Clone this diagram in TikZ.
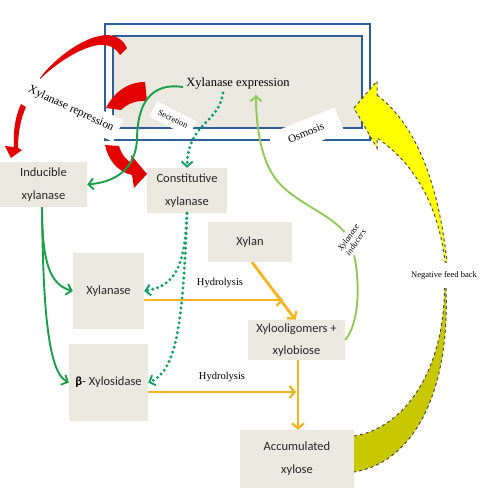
\documentclass[tikz,border=0pt]{standalone}
\usepackage{fontspec}
\setmainfont{Liberation Serif}
\newfontfamily\carl{Carlito}
\usetikzlibrary{arrows.meta}
\definecolor{boxc}{HTML}{EBE8E0}
\definecolor{redc}{HTML}{E20000}
\definecolor{dgreen}{HTML}{18A04A}
\definecolor{tgreen}{HTML}{12A068}
\definecolor{lgreen}{HTML}{8DCB55}
\definecolor{orng}{HTML}{F6B520}
\definecolor{yel}{HTML}{FFFF00}
\definecolor{oliv}{HTML}{C8C800}
\definecolor{bluec}{HTML}{2F5D9B}
\begin{document}
\begin{tikzpicture}[x=1pt,y=-1pt,
  ebox/.style={fill=boxc,inner sep=0pt,align=center,font=\carl\fontsize{12.5}{23}\selectfont,text=black!85},
  tagbox/.style={fill=white,inner sep=2pt},
  dg/.style={draw=dgreen,line width=1.9pt,-{Straight Barb[length=5pt,width=11pt,line width=1.9pt]}},
  dots/.style={draw=tgreen,line width=3.3pt,line cap=round,dash pattern=on 0pt off 5pt,-{Straight Barb[length=5pt,width=11pt,line width=1.9pt]}},
  lg/.style={draw=lgreen,line width=1.9pt,-{Straight Barb[length=5pt,width=11pt,line width=1.9pt]}},
  og/.style={draw=orng,line width=2.8pt,-{Straight Barb[length=5pt,width=12pt,line width=2.3pt]}},
  bigarrow/.style={draw=black!70,line width=1pt,dashed}]
\useasboundingbox (0,0) rectangle (504,504);

% cell walls
\draw[bluec,line width=1.4pt] (105,24) rectangle (370,140);
\draw[bluec,line width=1.4pt,fill=boxc] (113,36) rectangle (362,128);

% red repression arrows
\fill[redc] (40,78) .. controls (55,58) and (85,35) .. (108,35) .. controls (118,36) and (124,41) .. (127,48) -- (120,55) .. controls (115,47) and (108,44) .. (98,45) .. controls (80,48) and (58,62) .. (40,79) -- cycle;
\fill[redc] (21,104) -- (26,107) .. controls (20,120) and (18,135) .. (18,148) -- (22,150) -- (11,158) -- (5,146) -- (14,147) .. controls (13,132) and (15,117) .. (21,104) -- cycle;
\fill[redc] (145,82) .. controls (128,82) and (114,92) .. (106,108) -- (121,110) .. controls (127,104) and (136,100) .. (147,101) -- cycle;
\fill[redc] (105,145) -- (119,146) .. controls (122,155) and (126,160) .. (132,163) -- (131,155) -- (147,174) -- (134,188) -- (132,175) .. controls (118,172) and (108,160) .. (105,145) -- cycle;

% rotated labels
\node[tagbox,rotate=-25,minimum width=104pt,minimum height=24pt,font=\fontsize{11.5}{12}\selectfont] (rep) at (71,109) {Xylanase repression};
\node[tagbox,rotate=-27,minimum width=44pt,minimum height=17pt,font=\fontsize{8.5}{9}\selectfont] (sec) at (173,119) {Secretion};
\node[tagbox,rotate=22,minimum width=72pt,minimum height=26pt,font=\fontsize{11}{12}\selectfont] (osm) at (306,133) {Osmosis};

% expression
\node[font=\fontsize{12.5}{14}\selectfont] (xe) at (238,84) {Xylanase expression};

% boxes
\node[ebox,minimum width=87pt,minimum height=45pt] (ind) at (43.5,184.5) {Inducible\\xylanase};
\node[ebox,minimum width=80pt,minimum height=45pt] (con) at (187,190.5) {Constitutive\\xylanase};
\node[ebox,minimum width=71pt,minimum height=76pt] (xyl) at (108.5,291) {Xylanase};
\node[ebox,minimum width=79pt,minimum height=77pt] (bx) at (108.5,382.5) {{\bfseries\color{black}β}- Xylosidase};
\node[ebox,minimum width=84pt,minimum height=40pt] (xn) at (250,242) {Xylan};
\node[ebox,minimum width=97pt,minimum height=40pt,font=\carl\fontsize{12.5}{22}\selectfont] (xo) at (296.5,340) {Xylooligomers +\\xylobiose};
\node[ebox,minimum width=114pt,minimum height=58pt] (ax) at (297,459) {Accumulated\\xylose};

% dark green arrows
\draw[dg] ([yshift=-3pt]xe.west) .. controls (150,82) and (137,105) .. (137,140) .. controls (135,170) and (115,182) .. (ind.east);
\draw[dg] ([xshift=-1.5pt]ind.south) .. controls (42,262) and (50,285) .. (xyl.west);
\draw[dg] ([xshift=-1.5pt]ind.south) .. controls (43,300) and (47,372) .. (bx.west);

% dotted teal arrows
\coordinate (xes) at (223,93);
\draw[dots] (xes) .. controls (218,125) and (188,122) .. (con.north);
\draw[dots] (con.south) .. controls (185,265) and (176,286) .. (xyl.east);
\draw[dots] (con.south) .. controls (183,330) and (175,372) .. (bx.east);

% light green inducers arrow
\coordinate (ind1) at (350,240);
\coordinate (ind2) at (275,178);
\coordinate (xetip) at (256,95);
\draw[lg] (xo.east) .. controls (362,320) and (360,268) .. (ind1) .. controls (336,214) and (295,205) .. (ind2) .. controls (262,160) and (256,130) .. (xetip);
\node[fill=white,inner xsep=2pt,inner ysep=3pt,rotate=55,align=center,font=\itshape\fontsize{8.5}{9}\selectfont] (indlab) at (352,240) {Xylanase\\inducers};

% orange hydrolysis arrows
\coordinate (h1) at (283,300);
\coordinate (h2) at (296,392);
\draw[og] (xyl.east |- h1) -- (h1);
\draw[og] ([xshift=2pt]xn.south) -- ([xshift=-1pt]xo.north);
\draw[og] (bx.east |- h2) -- (h2);
\draw[og] ([xshift=1.5pt]xo.south) -- ([xshift=1pt]ax.north);
\node[font=\fontsize{10.5}{11}\selectfont] (hy1) at (220,283) {Hydrolysis};
\node[font=\fontsize{10.5}{11}\selectfont] (hy2) at (222,377) {Hydrolysis};

% negative feedback arrows
\fill[oliv] (446,288) .. controls (450,390) and (415,462) .. (ax.east |- 0,472) -- (ax.east |- 0,436) .. controls (405,428) and (444,370) .. (444.5,288) -- cycle;
\draw[bigarrow] (446,288) .. controls (450,390) and (415,462) .. (354,472);
\draw[bigarrow] (354,436) .. controls (405,428) and (444,370) .. (444.5,288);
\filldraw[bigarrow,fill=yel] (377,95) .. controls (410,120) and (437,170) .. (447,262) -- (445,262) .. controls (438,200) and (410,160) .. (377,138) -- (377,148) -- (354,108) -- (377,81) -- cycle;
\node[font=\fontsize{8.5}{9}\selectfont] (nfb) at (444,275) {Negative feed back};
\end{tikzpicture}
\end{document}
